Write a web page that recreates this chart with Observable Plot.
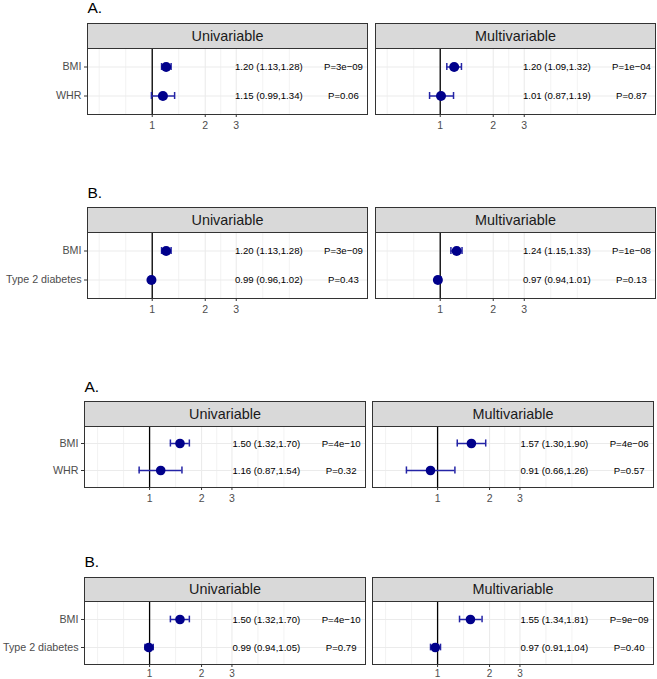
<!DOCTYPE html>
<html><head><meta charset="utf-8">
<script src="https://cdn.jsdelivr.net/npm/d3@7"></script>
<script src="https://cdn.jsdelivr.net/npm/@observablehq/plot@0.6"></script>
<style>
body{margin:0;background:#fff;}
#wrap{position:relative;width:657px;height:679px;overflow:hidden;background:#fff;font-family:"Liberation Sans",Arial,sans-serif;}
#wrap svg{position:absolute;left:0;}
</style></head><body><div id="wrap"></div>
<script>
// ---- data ----
const models = ["Univariable", "Multivariable"];
const groupTitles = ["A.", "B.", "A.", "B."];
const groupVariables = [["BMI", "WHR"], ["BMI", "Type 2 diabetes"], ["BMI", "WHR"], ["BMI", "Type 2 diabetes"]];

const rowGroup = [0,0,0,0, 1,1,1,1, 2,2,2,2, 3,3,3,3];
const rowModel = ["Univariable","Univariable","Multivariable","Multivariable",
                  "Univariable","Univariable","Multivariable","Multivariable",
                  "Univariable","Univariable","Multivariable","Multivariable",
                  "Univariable","Univariable","Multivariable","Multivariable"];
const rowVariable = ["BMI","WHR","BMI","WHR",
                     "BMI","Type 2 diabetes","BMI","Type 2 diabetes",
                     "BMI","WHR","BMI","WHR",
                     "BMI","Type 2 diabetes","BMI","Type 2 diabetes"];
const oddsRatio = [1.20,1.15,1.20,1.01, 1.20,0.99,1.24,0.97, 1.50,1.16,1.57,0.91, 1.50,0.99,1.55,0.97];
const ciLow     = [1.13,0.99,1.09,0.87, 1.13,0.96,1.15,0.94, 1.32,0.87,1.30,0.66, 1.32,0.94,1.34,0.91];
const ciHigh    = [1.28,1.34,1.32,1.19, 1.28,1.02,1.33,1.01, 1.70,1.54,1.90,1.26, 1.70,1.05,1.81,1.04];
const pLabels   = ["P=3e\u221209","P=0.06","P=1e\u221204","P=0.87",
                   "P=3e\u221209","P=0.43","P=1e\u221208","P=0.13",
                   "P=4e\u221210","P=0.32","P=4e\u221206","P=0.57",
                   "P=4e\u221210","P=0.79","P=9e\u221209","P=0.40"];

const majorBreaks = [1, 2, 3];
const minorBreaks = [0.5, 0.707, 1.414, 2.449, 4.243, 6];

// ---- layout config ----
const groupLayout = [
  {top: 0,   marginTop: 48, stripH: 25, panelH: 66, marginBottom: 20, marginLeft: 87, marginRight: 1.3, pad: 0.0264, domain: [0.4291, 16.68], orX: 4.59, pX: 12.18, titleDy: -35.3, r: 5, tickPad: 4, tickFont: 10.5},
  {top: 180, marginTop: 52, stripH: 25, panelH: 66, marginBottom: 20, marginLeft: 87, marginRight: 1.3, pad: 0.0264, domain: [0.4291, 16.68], orX: 4.59, pX: 12.18, titleDy: -35,   r: 5, tickPad: 4, tickFont: 10.5},
  {top: 370, marginTop: 56, stripH: 25, panelH: 61, marginBottom: 20, marginLeft: 83.3, marginRight: 3.7, pad: 0.0232, domain: [0.4198, 17.81], orX: 4.745, pX: 12.87, titleDy: -34.3, r: 4.8, tickPad: 4, tickFont: 10.5},
  {top: 545, marginTop: 56, stripH: 24, panelH: 63, marginBottom: 15, marginLeft: 83.3, marginRight: 3.7, pad: 0.0232, domain: [0.4198, 17.81], orX: 4.745, pX: 12.87, titleDy: -34.3, r: 4.8, tickPad: 2.5, tickFont: 10}
];

const rows = oddsRatio.map((v, i) => ({
  group: rowGroup[i], model: rowModel[i], variable: rowVariable[i],
  or: v, lo: ciLow[i], hi: ciHigh[i], p: pLabels[i],
  orLabel: `${v.toFixed(2)} (${ciLow[i].toFixed(2)},${ciHigh[i].toFixed(2)})`
}));

const dotColor = "#00008b";
const barColor = "#2424a6";
const font = "'Liberation Sans', Arial, sans-serif";
const wrap = document.getElementById("wrap");

groupLayout.forEach((cfg, g) => {
  const data = rows.filter(d => d.group === g);
  const H = cfg.marginTop + cfg.panelH + cfg.marginBottom;
  const bw = cfg.panelH / 2.2 * 0.5;
  const capInset = (bw - 7) / 2;
  const chart = Plot.plot({
    width: 657, height: H,
    marginTop: cfg.marginTop, marginBottom: cfg.marginBottom,
    marginLeft: cfg.marginLeft, marginRight: cfg.marginRight,
    style: {fontFamily: font, background: "transparent", overflow: "visible"},
    fx: {domain: models, paddingInner: cfg.pad, paddingOuter: 0, axis: null, label: null},
    x: {type: "log", domain: cfg.domain, axis: null},
    y: {type: "band", domain: groupVariables[g], paddingInner: 0.5, paddingOuter: 0.35, axis: null, label: null},
    marks: [
      Plot.frame({fill: "#d9d9d9", stroke: "#333333", strokeWidth: 1, insetTop: -cfg.stripH, insetBottom: cfg.panelH}),
      Plot.text(models, {fx: d => d, text: d => d, frameAnchor: "top", dy: -cfg.stripH / 2, lineAnchor: "middle", fontSize: 14.4, fill: "#1a1a1a"}),
      Plot.text([groupTitles[g]], {fx: () => "Univariable", text: d => d, frameAnchor: "top-left", dy: cfg.titleDy, lineAnchor: "bottom", textAnchor: "start", fontSize: 15.5, fill: "#000"}),
      Plot.ruleX(minorBreaks, {stroke: "#ececec", strokeWidth: 0.7}),
      Plot.ruleX(majorBreaks, {stroke: "#ebebeb", strokeWidth: 1.1}),
      Plot.ruleY(groupVariables[g], {stroke: "#ebebeb", strokeWidth: 1.1}),
      Plot.ruleX([1], {stroke: "#000", strokeWidth: 1.3}),
      Plot.ruleY(data, {fx: "model", y: "variable", x1: "lo", x2: "hi", stroke: barColor, strokeWidth: 1.5}),
      Plot.tickX(data, {fx: "model", y: "variable", x: "lo", stroke: barColor, strokeWidth: 1.5, insetTop: capInset, insetBottom: capInset}),
      Plot.tickX(data, {fx: "model", y: "variable", x: "hi", stroke: barColor, strokeWidth: 1.5, insetTop: capInset, insetBottom: capInset}),
      Plot.dot(data, {fx: "model", x: "or", y: "variable", r: cfg.r, fill: dotColor, stroke: "none"}),
      Plot.text(data, {fx: "model", x: () => cfg.orX, y: "variable", text: "orLabel", fontSize: 9.6, fill: "#000"}),
      Plot.text(data, {fx: "model", x: () => cfg.pX, y: "variable", text: "p", fontSize: 9.6, fill: "#000"}),
      Plot.frame({stroke: "#333333", strokeWidth: 1}),
      // x axis ticks and labels
      Plot.tickX(majorBreaks, {x: d => d, stroke: "#333333", strokeWidth: 1, insetTop: cfg.panelH, insetBottom: -3}),
      Plot.text(majorBreaks, {x: d => d, text: d => String(d), frameAnchor: "bottom", lineAnchor: "top", dy: 3 + cfg.tickPad, fontSize: cfg.tickFont, fill: "#4d4d4d"}),
      Plot.axisY({tickSize: 3, tickPadding: 3, fontSize: 10.7, stroke: "#333333", fill: "#4d4d4d", label: null, facetAnchor: "left"})
    ]
  });
  chart.style.top = cfg.top + "px";
  wrap.appendChild(chart);
});
</script>
</body></html>
